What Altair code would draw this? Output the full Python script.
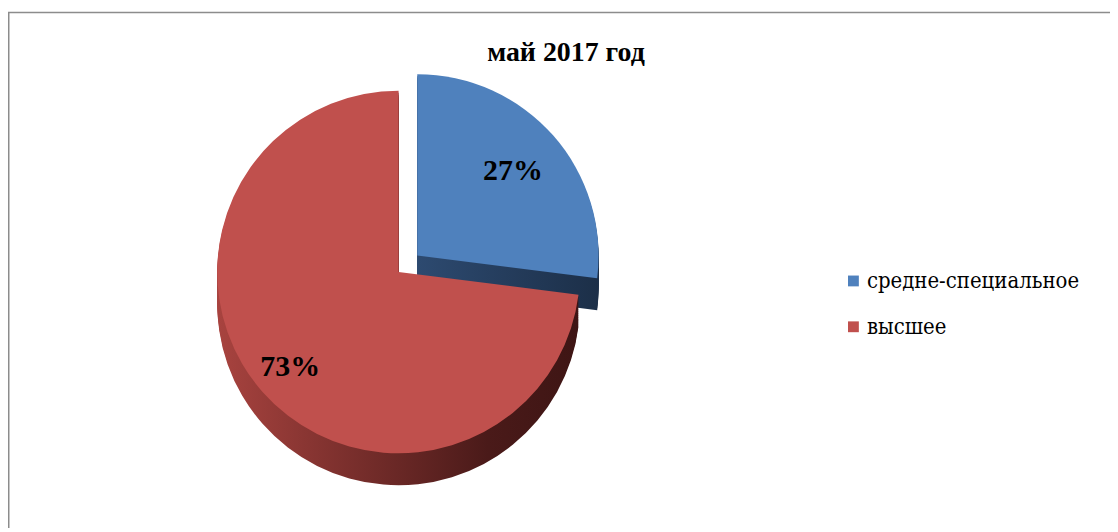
import math
import altair as alt
import pandas as pd

# ---- data ----
categories = ["средне-специальное", "высшее"]
values = [27, 73]
title_text = ["май 2017 год"]
top_colors = ["#4F81BD", "#C0504D"]

total = sum(values)
starts, acc = [], 0
for v in values:
    starts.append(acc)
    acc += v
ends = [s + v for s, v in zip(starts, values)]
df = pd.DataFrame({"cat": categories, "value": values, "start": starts, "end": ends})
df["mid"] = (df["start"] + df["end"]) / 2
df["label"] = [f"{round(v / total * 100)}%" for v in values]

SERIF = "Liberation Serif, Times New Roman, Times, serif"
SERIF_REG = "DejaVu Serif Condensed, DejaVu Serif, serif"

# ---- layout ----
W, H = 1106, 520
R = 182
CX, CY = 392, 264
DEPTH = 32
EXPLODE = 25
a_blue = df["mid"][0] / total * 2 * math.pi
BX = CX + EXPLODE * math.sin(a_blue)
BY = CY - EXPLODE * math.cos(a_blue)

theta = alt.Theta("start:Q", scale=alt.Scale(domain=[0, total]), stack=None)
theta2 = alt.Theta2("end:Q")
cscale = alt.Scale(domain=categories, range=top_colors)
color = alt.Color("cat:N", scale=cscale, legend=None)

red_side_fill = alt.Gradient(
    gradient="linear",
    stops=[alt.GradientStop(offset=0, color="#A8433F"),
           alt.GradientStop(offset=0.75, color="#4A1A19"),
           alt.GradientStop(offset=1, color="#3E1514")],
    x1=0, x2=1, y1=0, y2=0,
)
blue_side_fill = alt.Gradient(
    gradient="linear",
    stops=[alt.GradientStop(offset=0, color="#2D4A70"),
           alt.GradientStop(offset=1, color="#1C2F48")],
    x1=0, x2=1, y1=0, y2=0,
)

base = alt.Chart(df)
blue = base.transform_filter(alt.datum.cat == categories[0])
red = base.transform_filter(alt.datum.cat == categories[1])

layers = []

# border
layers.append(
    alt.Chart(pd.DataFrame({"k": [0]})).mark_rect(
        filled=False, stroke="#8c8c8c", strokeWidth=1.5
    ).encode(x=alt.value(0.75), y=alt.value(3.5), x2=alt.value(1400), y2=alt.value(900))
)

# blue side + top
for d in range(DEPTH, 0, -2):
    layers.append(
        blue.mark_arc(radius=R, fill=blue_side_fill).encode(
            theta=theta, theta2=theta2, x=alt.value(BX), y=alt.value(BY + d)
        )
    )
layers.append(
    blue.mark_arc(radius=R).encode(
        theta=theta, theta2=theta2, color=color, x=alt.value(BX), y=alt.value(BY)
    )
)

# red side + top
for d in range(DEPTH, 0, -2):
    layers.append(
        red.mark_arc(radius=R, fill=red_side_fill).encode(
            theta=theta, theta2=theta2, x=alt.value(CX), y=alt.value(CY + d)
        )
    )
layers.append(
    red.mark_arc(radius=R).encode(
        theta=theta, theta2=theta2, color=color, x=alt.value(CX), y=alt.value(CY)
    )
)

# labels
layers.append(
    blue.mark_text(radius=128, font=SERIF, fontSize=30,
                   fontWeight="bold", color="#000000").encode(
        theta=alt.Theta("mid:Q", scale=alt.Scale(domain=[0, total]), stack=None),
        text="label:N", x=alt.value(BX), y=alt.value(BY),
    )
)
layers.append(
    red.mark_text(radius=145, font=SERIF, fontSize=30,
                  fontWeight="bold", color="#000000").encode(
        theta=alt.Theta("mid:Q", scale=alt.Scale(domain=[0, total]), stack=None),
        text="label:N", x=alt.value(CX), y=alt.value(CY),
    )
)

# legend (drawn as marks)
leg_y = alt.Y("cat:N", axis=None,
              scale=alt.Scale(type="point", domain=categories, range=[273, 319], padding=0))
layers.append(
    base.mark_square(size=118, opacity=1).encode(
        x=alt.value(848.5), y=leg_y, color=color
    )
)
layers.append(
    base.mark_text(align="left", baseline="middle", font=SERIF_REG,
                   fontSize=22, fontWeight="normal", color="#000000").encode(
        x=alt.value(862), y=leg_y, text="cat:N"
    )
)

# title
layers.append(
    alt.Chart(pd.DataFrame({"t": title_text})).mark_text(
        font=SERIF, fontSize=28, fontWeight="bold", color="#000000"
    ).encode(text="t:N", x=alt.value(560), y=alt.value(44))
)

chart = alt.layer(*layers).properties(
    width=W, height=H, padding=0, autosize="none", background="#ffffff"
).configure_view(stroke=None)

chart.save("out.html", embed_options={"renderer": "svg", "actions": False})
